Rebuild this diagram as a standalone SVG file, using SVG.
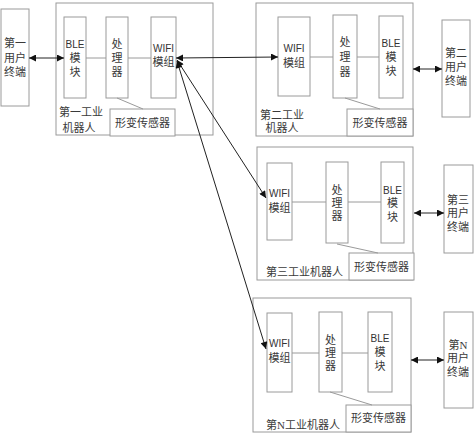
<svg xmlns="http://www.w3.org/2000/svg" width="474" height="433" viewBox="0 0 474 433">
<style>
.box{fill:#fff;stroke:#9a9a9a;stroke-width:1}
.in{fill:none;stroke:#9a9a9a;stroke-width:1}
.t{font-family:"Liberation Serif","Noto Sans CJK SC",serif;font-size:11px;fill:#3a3a3a;text-anchor:middle;dominant-baseline:central}
.e{font-family:"Liberation Sans","Noto Sans CJK SC",sans-serif;font-size:10px;fill:#333;text-anchor:middle;dominant-baseline:central}
.tl{font-family:"Liberation Serif","Noto Sans CJK SC",serif;font-size:11px;fill:#3a3a3a;dominant-baseline:central}
.ar{fill:none;stroke:#222;stroke-width:1;marker-start:url(#ah);marker-end:url(#ah)}
</style>
<defs>
<marker id="ah" viewBox="0 0 10 10" refX="10" refY="5" markerWidth="9" markerHeight="7" markerUnits="userSpaceOnUse" orient="auto-start-reverse">
<path d="M0,0 L10,5 L0,10 z" fill="#111"/>
</marker>
</defs>
<rect width="474" height="433" fill="#fff"/>

<g id="terminal1">
<rect class="box" x="1" y="9" width="28" height="97"/>
<text class="t" x="15" y="43">第一</text>
<text class="t" x="15" y="58">用户</text>
<text class="t" x="15" y="72">终端</text>
</g>

<g id="robot1">
<rect class="box" x="56" y="3" width="157" height="132"/>
<rect class="box" x="64" y="17" width="22" height="81"/>
<text class="e" x="75" y="44">BLE</text>
<text class="t" x="75" y="58">模</text>
<text class="t" x="75" y="72">块</text>
<rect class="box" x="106" y="17" width="22" height="81"/>
<text class="t" x="117" y="44">处</text>
<text class="t" x="117" y="58">理</text>
<text class="t" x="117" y="72">器</text>
<rect class="box" x="151" y="17" width="25" height="81"/>
<text class="e" x="163.5" y="48">WIFI</text>
<text class="t" x="163.5" y="62">模组</text>
<rect class="box" x="110" y="109" width="65" height="27"/>
<text class="t" x="142.5" y="123">形变传感器</text>
<text class="t" x="81" y="112">第一工业</text>
<text class="t" x="79" y="128">机器人</text>
<line class="in" x1="86" y1="58" x2="106" y2="58"/>
<line class="in" x1="128" y1="58" x2="151" y2="58"/>
<line class="in" x1="117" y1="98" x2="143" y2="109"/>
</g>

<g id="robot2">
<rect class="box" x="256" y="3" width="157" height="133"/>
<rect class="box" x="278" y="17" width="32" height="79"/>
<text class="e" x="294" y="48">WIFI</text>
<text class="t" x="294" y="63">模组</text>
<rect class="box" x="333" y="15" width="24" height="83"/>
<text class="t" x="345" y="42">处</text>
<text class="t" x="345" y="57">理</text>
<text class="t" x="345" y="72">器</text>
<rect class="box" x="379" y="16" width="24" height="82"/>
<text class="e" x="391" y="43">BLE</text>
<text class="t" x="391" y="57">模</text>
<text class="t" x="391" y="71">块</text>
<rect class="box" x="347" y="109" width="66" height="27"/>
<text class="t" x="380" y="123">形变传感器</text>
<text class="t" x="282" y="115">第二工业</text>
<text class="t" x="282" y="128">机器人</text>
<line class="in" x1="310" y1="57" x2="333" y2="57"/>
<line class="in" x1="357" y1="57" x2="379" y2="57"/>
<line class="in" x1="345" y1="98" x2="380" y2="109"/>
</g>

<g id="terminal2">
<rect class="box" x="442" y="20" width="28" height="97"/>
<text class="t" x="456" y="53">第二</text>
<text class="t" x="456" y="67">用户</text>
<text class="t" x="456" y="81">终端</text>
</g>

<g id="robot3">
<rect class="box" x="257" y="147" width="156" height="133"/>
<rect class="box" x="267" y="163" width="25" height="77"/>
<text class="e" x="279.5" y="193">WIFI</text>
<text class="t" x="279.5" y="208">模组</text>
<rect class="box" x="326" y="162" width="22" height="81"/>
<text class="t" x="337" y="190">处</text>
<text class="t" x="337" y="203">理</text>
<text class="t" x="337" y="216">器</text>
<rect class="box" x="381" y="162" width="23" height="81"/>
<text class="e" x="392.5" y="190">BLE</text>
<text class="t" x="392.5" y="203">模</text>
<text class="t" x="392.5" y="217">块</text>
<rect class="box" x="349" y="253" width="65" height="27"/>
<text class="t" x="381.5" y="267">形变传感器</text>
<text class="tl" x="266" y="272">第三工业机器人</text>
<line class="in" x1="292" y1="202" x2="326" y2="202"/>
<line class="in" x1="348" y1="202" x2="381" y2="202"/>
<line class="in" x1="337" y1="244" x2="378" y2="253"/>
</g>

<g id="terminal3">
<rect class="box" x="444" y="165" width="29" height="88"/>
<text class="t" x="458" y="200">第三</text>
<text class="t" x="458" y="213">用户</text>
<text class="t" x="458" y="227">终端</text>
</g>

<g id="robotN">
<rect class="box" x="253" y="298" width="158" height="134"/>
<rect class="box" x="267" y="313" width="25" height="79"/>
<text class="e" x="279.5" y="343">WIFI</text>
<text class="t" x="279.5" y="358">模组</text>
<rect class="box" x="319" y="312" width="23" height="80"/>
<text class="t" x="330.5" y="340">处</text>
<text class="t" x="330.5" y="353">理</text>
<text class="t" x="330.5" y="366">器</text>
<rect class="box" x="368" y="312" width="24" height="80"/>
<text class="e" x="380" y="338">BLE</text>
<text class="t" x="380" y="352">模</text>
<text class="t" x="380" y="366">块</text>
<rect class="box" x="346" y="405" width="65" height="27"/>
<text class="t" x="378.5" y="418">形变传感器</text>
<text class="tl" x="266" y="425">第N工业机器人</text>
<line class="in" x1="292" y1="353" x2="319" y2="353"/>
<line class="in" x1="342" y1="353" x2="368" y2="353"/>
<line class="in" x1="330" y1="392" x2="372" y2="405"/>
</g>

<g id="terminalN">
<rect class="box" x="444" y="312" width="29" height="96"/>
<text class="t" x="458" y="345">第N</text>
<text class="t" x="458" y="358">用户</text>
<text class="t" x="458" y="372">终端</text>
</g>

<g id="connectors">
<line class="ar" x1="29" y1="58" x2="64" y2="58"/>
<line class="ar" x1="176" y1="58" x2="278" y2="57"/>
<line class="ar" x1="177" y1="60" x2="266" y2="198"/>
<line class="ar" x1="177" y1="61" x2="266" y2="349"/>
<line class="ar" x1="413" y1="69" x2="442" y2="69"/>
<line class="ar" x1="414" y1="213" x2="444" y2="213"/>
<line class="ar" x1="411" y1="360" x2="444" y2="360"/>
</g>
</svg>
